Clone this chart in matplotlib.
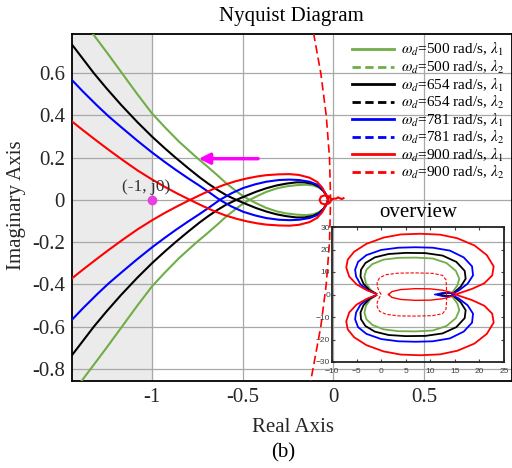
import numpy as np
import matplotlib
matplotlib.use('Agg')
import matplotlib.pyplot as plt
from matplotlib.lines import Line2D

plt.rcParams['font.family'] = ['Liberation Serif', 'DejaVu Serif']
plt.rcParams['mathtext.fontset'] = 'stix'

#---------------- data ----------------
# main view: upper (descending) branch of each lambda_1 curve, the lower one is its mirror
green_x = [-1.39, -1.326, -1.25, -1.165, -1.08, -1.0, -0.93, -0.85, -0.753, -0.70, -0.64, -0.59,
           -0.535, -0.50, -0.462, -0.42, -0.37, -0.31, -0.26, -0.20, -0.15, -0.11, -0.08, -0.055,
           -0.04, -0.032, -0.03]
green_y = [0.86, 0.787, 0.70, 0.60, 0.50, 0.41, 0.345, 0.275, 0.20, 0.162, 0.117, 0.078,
           0.041, 0.019, 0.0, -0.018, -0.038, -0.055, -0.064, -0.070, -0.072, -0.068, -0.058, -0.042,
           -0.024, -0.009, 0.0]
black_x = [-1.46, -1.40, -1.32, -1.25, -1.17, -1.08, -1.0, -0.93, -0.87, -0.80, -0.736, -0.69,
           -0.64, -0.59, -0.535, -0.48, -0.425, -0.37, -0.315, -0.26, -0.205, -0.16, -0.114,
           -0.08, -0.055, -0.04, -0.032, -0.03]
black_y = [0.757, 0.690, 0.60, 0.528, 0.450, 0.368, 0.300, 0.245, 0.20, 0.150, 0.106, 0.077,
           0.048, 0.022, 0.0, -0.020, -0.039, -0.055, -0.068, -0.077, -0.083, -0.083, -0.076,
           -0.062, -0.042, -0.022, -0.008, 0.0]
blue_x = [-1.46, -1.38, -1.30, -1.238, -1.17, -1.08, -1.0, -0.93, -0.87, -0.80, -0.736, -0.68,
          -0.626, -0.56, -0.498, -0.43, -0.37, -0.30, -0.242, -0.19, -0.132, -0.09, -0.06,
          -0.042, -0.033, -0.03]
blue_y = [0.585, 0.513, 0.445, 0.395, 0.345, 0.28, 0.225, 0.18, 0.143, 0.102, 0.066, 0.033,
          0.0, -0.032, -0.056, -0.074, -0.086, -0.094, -0.096, -0.094, -0.086, -0.072, -0.05,
          -0.026, -0.009, 0.0]
red_x = [-1.46, -1.38, -1.30, -1.24, -1.16, -1.08, -1.0, -0.93, -0.86, -0.79, -0.72, -0.66,
         -0.60, -0.54, -0.48, -0.42, -0.37, -0.30, -0.242, -0.19, -0.132, -0.09, -0.062, -0.045,
         -0.034, -0.03]
red_y = [0.385, 0.330, 0.277, 0.238, 0.188, 0.140, 0.097, 0.062, 0.030, 0.0, -0.029, -0.052,
         -0.072, -0.088, -0.101, -0.111, -0.117, -0.121, -0.122, -0.118, -0.105, -0.085, -0.058,
         -0.03, -0.01, 0.0]

# small red loop at the origin
loop_x = [-0.013, -0.022, -0.045, -0.068, -0.077, -0.068, -0.045, -0.022, -0.013, 0.0, 0.015, 0.025, 0.035, 0.045, 0.055]
loop_y = [0.0, 0.016, 0.022, 0.016, 0.0, -0.016, -0.022, -0.016, 0.0, 0.006, 0.006, 0.012, 0.008, 0.004, 0.008]

# red lambda_2 (dashed) in the main view
red2_x = [-0.110, -0.070, -0.040, -0.022, -0.016, -0.022, -0.040, -0.070, -0.126]
red2_y = [0.79, 0.6, 0.4, 0.2, 0.0, -0.2, -0.4, -0.6, -0.86]

# overview inset: upper lobes (mirrored for the lower half)
ov_red_x = [-1.0, -3.0, -5.0, -6.5, -7.1, -6.8, -5.5, -3.0, 0.5, 4.0, 8.0, 12.0, 15.5, 19.0, 21.5, 22.9, 22.6, 21.0, 18.5, 15.5]
ov_red_y = [0.3, 2.0, 4.5, 8.0, 12.0, 15.5, 19.0, 22.5, 25.3, 26.7, 27.0, 26.6, 25.0, 21.8, 17.5, 12.5, 8.5, 5.0, 2.5, 0.3]
ov_blue_x = [-1.0, -2.6, -4.2, -5.1, -5.3, -4.7, -3.0, 0.0, 3.5, 7.0, 10.5, 14.0, 16.8, 18.5, 18.7, 17.6, 15.8, 14.5]
ov_blue_y = [0.3, 1.8, 4.5, 8.0, 11.0, 14.5, 17.5, 19.8, 20.8, 21.0, 20.8, 19.5, 16.5, 12.5, 8.5, 4.8, 1.8, 0.3]
ov_black_x = [-1.0, -2.4, -3.6, -4.2, -4.1, -3.2, -1.3, 1.5, 5.0, 9.0, 12.5, 15.3, 17.0, 17.2, 16.2, 14.8]
ov_black_y = [0.3, 2.0, 4.8, 8.0, 11.0, 14.0, 16.5, 18.0, 18.5, 18.4, 17.3, 14.5, 10.5, 7.0, 3.5, 0.8]
ov_green_x = [-1.0, -2.2, -3.1, -3.4, -3.0, -1.8, 0.5, 3.5, 7.0, 10.5, 13.3, 15.2, 15.9, 15.5, 14.5]
ov_green_y = [0.3, 2.2, 5.0, 8.0, 11.0, 13.5, 15.5, 16.3, 16.4, 16.0, 14.0, 10.5, 7.0, 4.0, 1.0]
# inner loops near the real axis
ov_red_in_x = [1.5, 2.2, 4.0, 7.0, 10.0, 12.5, 14.5, 15.5]
ov_red_in_y = [0.0, 1.3, 2.2, 2.6, 2.5, 1.9, 0.8, 0.0]
ov_blue_in_x = [11.0, 12.5, 14.0, 15.0]
ov_blue_in_y = [0.0, 0.8, 0.8, 0.0]
ov_black_in_x = [11.5, 13.0, 14.2, 15.0]
ov_black_in_y = [0.0, 0.6, 0.6, 0.0]
ov_green_in_x = [12.0, 13.3, 14.4, 15.0]
ov_green_in_y = [0.0, 0.5, 0.5, 0.0]
# red lambda_2 dumbbell
ov_red2_x = [0.0, -0.4, -0.8, -0.8, -0.3, 1.0, 3.5, 7.0, 10.5, 12.5, 13.2, 13.3, 13.3]
ov_red2_y = [0.0, 1.5, 3.5, 5.5, 7.5, 8.8, 9.5, 9.6, 9.4, 8.5, 6.5, 3.0, 0.0]

speeds = ['500', '654', '781', '900']
colors = ['#70AD47', 'black', '#0000FF', '#FF0000']

xticks = [-1, -0.5, 0, 0.5]
xtick_labels = ['-1', '-0.5', '0', '0.5']
yticks = [-0.8, -0.6, -0.4, -0.2, 0, 0.2, 0.4, 0.6]
ytick_labels = ['-0.8', '-0.6', '-0.4', '-0.2', '0', '0.2', '0.4', '0.6']


def mirrored(x, y):
    # given branch then its mirror image (conjugate), run backwards so the path is continuous
    x = np.array(x)
    y = np.array(y)
    return np.concatenate([x, x[::-1]]), np.concatenate([y, -y[::-1]])


#---------------- figure ----------------
fig = plt.figure(figsize=(5.12, 4.68), dpi=100)
ax = fig.add_axes([72/512, 1-381/468, 440/512, 347/468])
ax.set_xlim(-1.44, 0.983)
ax.set_ylim(-0.857, 0.785)

ax.axvspan(-1.5, -1.0, color='#EBEBEB', zorder=0)
ax.grid(True, color='#A8A8A8', lw=0.9, zorder=1)
ax.set_axisbelow(True)

branches = [(green_x, green_y), (black_x, black_y), (blue_x, blue_y), (red_x, red_y)]
for (bx, by), c in zip(branches, colors):
    cx, cy = mirrored(bx, by)
    ax.plot(cx, cy, color=c, lw=1.5, zorder=3)
ax.plot(loop_x, loop_y, color='#FF0000', lw=1.5, zorder=3)
ax.plot(red2_x, red2_y, color='#FF0000', lw=1.2, ls=(0, (5, 2.5)), zorder=3)

ax.plot([-1], [0], 'o', color='#E83FE0', ms=6, zorder=4)
ax.text(-1.03, 0.062, '(-1, j0)', fontsize=12.5, color='#333333', ha='center', va='center')
ax.annotate('', xy=(-0.757, 0.195), xytext=(-0.40, 0.195),
            arrowprops=dict(arrowstyle='-|>', color='#FF00FF', lw=2.5, mutation_scale=16))

ax.set_xticks(xticks)
ax.set_xticklabels(xtick_labels)
ax.set_yticks(yticks)
ax.set_yticklabels(ytick_labels)
ax.tick_params(labelsize=15, colors='#262626', direction='in', length=0, pad=5)
for s in ax.spines.values():
    s.set_linewidth(1.3)

fig.text(291/512, 1-16/468, 'Nyquist Diagram', fontsize=15, ha='center', va='center')
fig.text(293/512, 1-427/468, 'Real Axis', fontsize=15, ha='center', va='center', color='#262626')
fig.text(17/512, 1-205/468, 'Imaginary Axis', fontsize=15, ha='center', va='center',
         rotation=90, color='#262626')
fig.text(283/512, 1-453/468, '(b)', fontsize=15, ha='center', va='center')

# legend
handles = []
labels = []
for sp, c in zip(speeds, colors):
    handles.append(Line2D([], [], color=c, lw=2))
    labels.append(r'$\omega_d$=' + sp + r' rad/s, $\lambda_1$')
    handles.append(Line2D([], [], color=c, lw=2, ls=(0, (3, 1.6))))
    labels.append(r'$\omega_d$=' + sp + r' rad/s, $\lambda_2$')
leg = ax.legend(handles, labels, loc='upper right', bbox_to_anchor=(0.993, 0.992),
                borderaxespad=0, fontsize=11, handlelength=2.75, handletextpad=0.45,
                labelspacing=0.03, fancybox=False, framealpha=0, edgecolor='black',
                borderpad=0.3)
leg.get_frame().set_linewidth(1.0)

# overview inset
ins = fig.add_axes([332/512, 1-362/468, 172/512, 135/468])
ins.patch.set_alpha(0)
ins.set_xlim(-10, 25)
ins.set_ylim(-30, 30)
lobes = [(ov_green_x, ov_green_y), (ov_black_x, ov_black_y), (ov_blue_x, ov_blue_y), (ov_red_x, ov_red_y)]
inner = [(ov_green_in_x, ov_green_in_y), (ov_black_in_x, ov_black_in_y),
         (ov_blue_in_x, ov_blue_in_y), (ov_red_in_x, ov_red_in_y)]
for (lx, ly), (ix, iy), c in zip(lobes, inner, colors):
    px, py = mirrored(lx, ly)
    ins.plot(px, py, color=c, lw=1.3)
    qx, qy = mirrored(ix, iy)
    ins.plot(qx, qy, color=c, lw=1.0)
dx, dy = mirrored(ov_red2_x, ov_red2_y)
ins.plot(dx, dy, color='#FF0000', lw=0.8, ls=(0, (3, 1.5)))
ins.set_xticks(range(-10, 26, 5))
ins.set_yticks(range(-30, 31, 10))
ins.tick_params(direction='in', length=2.5, labelsize=6, colors='#404040', pad=1.5,
                top=True, right=True)
ins.tick_params(axis='x', pad=4)
for lab in ins.get_xticklabels() + ins.get_yticklabels():
    lab.set_family('Liberation Sans')
for s in ins.spines.values():
    s.set_linewidth(1.3)
    s.set_color('#222222')
fig.text(418/512, 1-213/468, 'overview', fontsize=15, ha='center', va='center')

fig.savefig('out.png', dpi=100)
